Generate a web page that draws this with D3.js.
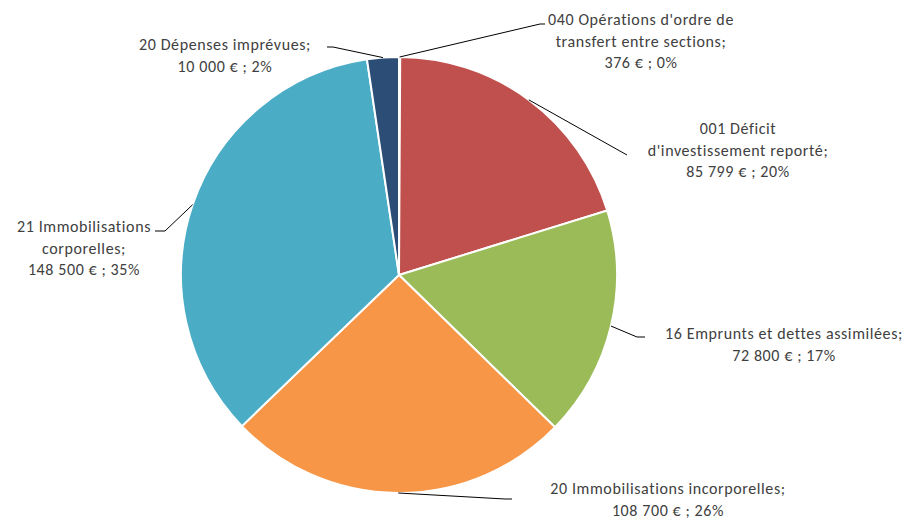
<!DOCTYPE html>
<html>
<head>
<meta charset="utf-8">
<style>
  body { margin: 0; background: #fff; }
  .lbl { font-family: Carlito, Lato, "Liberation Sans", sans-serif; font-size: 16px; letter-spacing: 0.6px; fill: #404040; }
  .leader { fill: none; stroke: #000; stroke-width: 1; }
</style>
</head>
<body>
<svg width="910" height="518"></svg>
<script src="https://cdnjs.cloudflare.com/ajax/libs/d3/7.8.5/d3.min.js"></script>
<script>
// data, clockwise from the top
var codes  = ["040", "001", "16", "20", "21", "20"];
var names  = ["Opérations d'ordre de transfert entre sections", "Déficit d'investissement reporté",
              "Emprunts et dettes assimilées", "Immobilisations incorporelles",
              "Immobilisations corporelles", "Dépenses imprévues"];
var values = [376, 85799, 72800, 108700, 148500, 10000];
var colors = ["#4F81BD", "#C0504D", "#9BBB59", "#F79646", "#4BACC6", "#2C4D75"];

// label text lines (as wrapped in the original)
var labelLines = [
  ["040 Opérations d'ordre de", "transfert entre sections;"],
  ["001 Déficit", "d'investissement reporté;"],
  ["16 Emprunts et dettes assimilées;"],
  ["20 Immobilisations incorporelles;"],
  ["21 Immobilisations", "corporelles;"],
  ["20 Dépenses imprévues;"]
];

// label layout: elbow point, end of leader, text centre x, first baseline
var layout = [
  {elbow: [540, 24], end: [545, 24], tx: 641, ty: 25},
  {elbow: [627, 155], end: [627, 155], tx: 738, ty: 134},
  {elbow: [637, 337], end: [645, 337], tx: 784, ty: 339},
  {elbow: [505, 499], end: [512, 499], tx: 668, ty: 494},
  {elbow: [165, 231], end: [155, 231], tx: 84, ty: 232},
  {elbow: [333, 47], end: [327, 47], tx: 225, ty: 50}
];

var svg = d3.select("svg");
var cx = 399, cy = 275, r = 218, lineH = 21.5;
var total = d3.sum(values);
var fmt = d3.formatLocale({decimal: ",", thousands: "\u202f", grouping: [3], currency: ["", " €"]}).format(",d");

var rows = values.map(function(v, i) { return {i: i, value: v}; });
var pie = d3.pie().sort(null).value(function(d) { return d.value; });
var arc = d3.arc().innerRadius(0).outerRadius(r);
var arcs = pie(rows);

var g = svg.append("g").attr("transform", "translate(" + cx + "," + cy + ")");

g.selectAll("path.slice")
  .data(arcs)
  .enter().append("path")
  .attr("class", "slice")
  .attr("d", arc)
  .attr("fill", function(d) { return colors[d.data.i]; })
  .attr("stroke", "#fff")
  .attr("stroke-width", 2);

// leader lines from the arc at mid angle
svg.selectAll("path.leader")
  .data(arcs)
  .enter().append("path")
  .attr("class", "leader")
  .attr("d", function(d) {
    var a = (d.startAngle + d.endAngle) / 2;
    var L = layout[d.data.i];
    var p0 = [cx + r * Math.sin(a), cy - r * Math.cos(a)];
    return d3.line()([p0, L.elbow, L.end]);
  });

// labels
var labels = svg.selectAll("text.lbl")
  .data(arcs)
  .enter().append("text")
  .attr("class", "lbl")
  .attr("text-anchor", "middle");

labels.each(function(d) {
  var i = d.data.i, L = layout[i];
  var pct = Math.round(d.data.value / total * 100);
  var lines = labelLines[i].concat([fmt(d.data.value) + " € ; " + pct + "%"]);
  var t = d3.select(this);
  lines.forEach(function(s, k) {
    t.append("tspan").attr("x", L.tx).attr("y", L.ty + k * lineH).text(s);
  });
});
</script>
</body>
</html>
